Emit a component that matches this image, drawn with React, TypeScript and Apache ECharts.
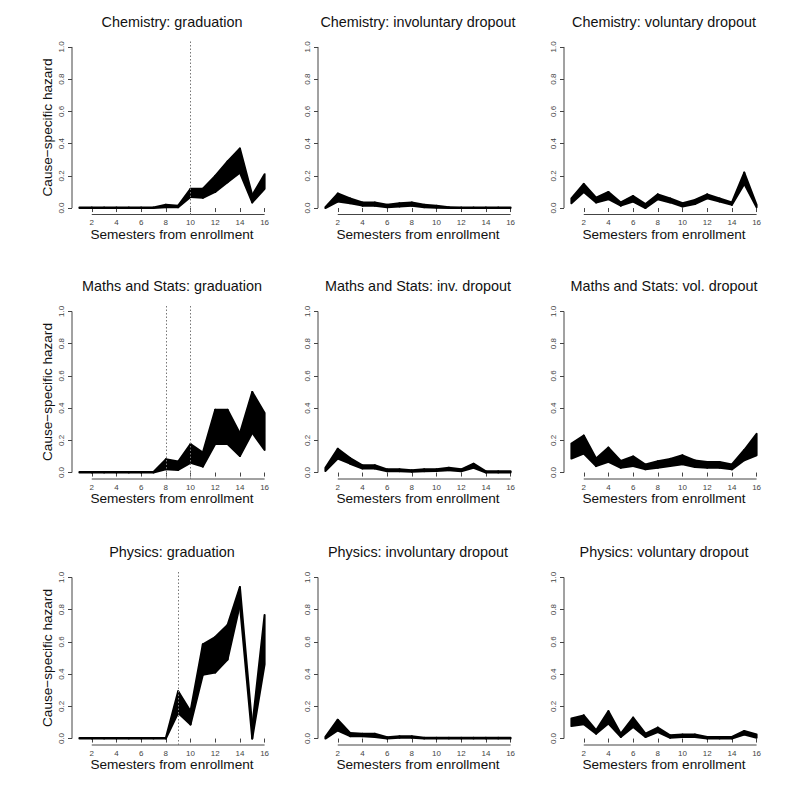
import React, { useEffect, useRef } from "react";
import * as echarts from "echarts";

const semesters = [1, 2, 3, 4, 5, 6, 7, 8, 9, 10, 11, 12, 13, 14, 15, 16];
const xTicks = [2, 4, 6, 8, 10, 12, 14, 16];
const yTicks = [0, 0.2, 0.4, 0.6, 0.8, 1.0];

const chemGradLo = [0, 0, 0, 0, 0, 0, 0, 0.005, 0.005, 0.068, 0.064, 0.1, 0.16, 0.22, 0.035, 0.12];
const chemGradHi = [0.004, 0.004, 0.004, 0.004, 0.004, 0.004, 0.004, 0.02, 0.015, 0.12, 0.12, 0.2, 0.29, 0.37, 0.08, 0.21];
const chemInvLo = [0, 0.04, 0.03, 0.015, 0.015, 0.005, 0.01, 0.015, 0.005, 0.002, 0, 0, 0, 0, 0, 0];
const chemInvHi = [0.005, 0.09, 0.06, 0.035, 0.035, 0.02, 0.03, 0.035, 0.02, 0.015, 0.005, 0.004, 0.004, 0.004, 0.004, 0.004];
const chemVolLo = [0.03, 0.1, 0.035, 0.055, 0.015, 0.04, 0, 0.055, 0.035, 0.01, 0.025, 0.06, 0.04, 0.02, 0.15, 0.005];
const chemVolHi = [0.06, 0.15, 0.065, 0.1, 0.035, 0.075, 0.025, 0.085, 0.06, 0.03, 0.05, 0.085, 0.06, 0.035, 0.22, 0.02];

const mathGradLo = [0, 0, 0, 0, 0, 0, 0, 0.02, 0.016, 0.06, 0.037, 0.177, 0.177, 0.103, 0.247, 0.14];
const mathGradHi = [0.004, 0.004, 0.004, 0.004, 0.004, 0.004, 0.004, 0.082, 0.068, 0.177, 0.124, 0.39, 0.39, 0.243, 0.5, 0.37];
const mathInvLo = [0.01, 0.087, 0.055, 0.025, 0.025, 0.008, 0.008, 0.005, 0.008, 0.01, 0.015, 0.008, 0.03, 0, 0, 0];
const mathInvHi = [0.03, 0.148, 0.09, 0.045, 0.045, 0.02, 0.02, 0.015, 0.02, 0.02, 0.03, 0.02, 0.055, 0.008, 0.008, 0.008];
const mathVolLo = [0.087, 0.118, 0.04, 0.066, 0.03, 0.04, 0.02, 0.03, 0.04, 0.052, 0.035, 0.03, 0.03, 0.02, 0.076, 0.107];
const mathVolHi = [0.18, 0.23, 0.087, 0.155, 0.072, 0.1, 0.05, 0.07, 0.085, 0.107, 0.075, 0.065, 0.065, 0.05, 0.14, 0.24];

const physGradLo = [0, 0, 0, 0, 0, 0, 0, 0, 0.159, 0.087, 0.396, 0.41, 0.49, 0.83, 0, 0.46];
const physGradHi = [0.004, 0.004, 0.004, 0.004, 0.004, 0.004, 0.004, 0.004, 0.293, 0.17, 0.585, 0.63, 0.705, 0.94, 0.076, 0.767];
const physInvLo = [0, 0.05, 0.015, 0.015, 0.01, 0, 0.005, 0.005, 0, 0, 0, 0, 0, 0, 0, 0];
const physInvHi = [0.01, 0.117, 0.035, 0.03, 0.03, 0.008, 0.015, 0.015, 0.005, 0.005, 0.005, 0.005, 0.005, 0.005, 0.005, 0.005];
const physVolLo = [0.078, 0.089, 0.03, 0.093, 0.01, 0.072, 0.01, 0.04, 0.005, 0.01, 0.01, 0, 0, 0, 0.025, 0.005];
const physVolHi = [0.124, 0.144, 0.052, 0.17, 0.03, 0.13, 0.03, 0.068, 0.02, 0.025, 0.025, 0.01, 0.01, 0.01, 0.047, 0.025];

const panelTitles = [
  "Chemistry: graduation",
  "Chemistry: involuntary dropout",
  "Chemistry: voluntary dropout",
  "Maths and Stats: graduation",
  "Maths and Stats: inv. dropout",
  "Maths and Stats: vol. dropout",
  "Physics: graduation",
  "Physics: involuntary dropout",
  "Physics: voluntary dropout",
];
const panelLo = [chemGradLo, chemInvLo, chemVolLo, mathGradLo, mathInvLo, mathVolLo, physGradLo, physInvLo, physVolLo];
const panelHi = [chemGradHi, chemInvHi, chemVolHi, mathGradHi, mathInvHi, mathVolHi, physGradHi, physInvHi, physVolHi];
const panelVLines = [[10], [], [], [8, 10], [], [], [9], [], []];

const xLabel = "Semesters from enrollment";
const yLabel = "Cause\u2212specific hazard";

const XMIN = 0.4;
const XMAX = 16.6;
const YMIN = -0.04;
const YMAX = 1.04;

const FONT = "'Liberation Sans', Arial, Helvetica, sans-serif";
const colLeft = [72, 318, 564];
const rowTop = [40.5, 305, 571];
const gridW = 200;
const gridH = 174;

export default function App() {
  const ref = useRef<HTMLDivElement>(null);
  useEffect(() => {
    document.body.style.margin = "0";
    const chart = echarts.init(ref.current!, null, { renderer: "svg" });
    const grids: any[] = [];
    const xAxes: any[] = [];
    const yAxes: any[] = [];
    const titles: any[] = [];
    const series: any[] = [];
    panelTitles.forEach((t, i) => {
      const c = i % 3;
      const r = Math.floor(i / 3);
      grids.push({ left: colLeft[c], top: rowTop[r], width: gridW, height: gridH });
      titles.push({
        text: t,
        left: colLeft[c] + gridW / 2,
        top: rowTop[r] - 19,
        textAlign: "center",
        textVerticalAlign: "middle",
        padding: 0,
        textStyle: { fontSize: 14.4, fontWeight: "normal", color: "#111", fontFamily: FONT },
      });
      xAxes.push({
        type: "value",
        gridIndex: i,
        min: XMIN,
        max: XMAX,
        splitLine: { show: false },
        axisLine: { show: false },
        axisTick: { show: true, customValues: xTicks, length: 4, lineStyle: { color: "#444", width: 1 } },
        axisLabel: { show: true, customValues: xTicks, fontSize: 8, color: "#444", margin: 4, fontFamily: FONT },
        name: xLabel,
        nameLocation: "middle",
        nameGap: 12,
        nameTextStyle: { fontSize: 13.6, color: "#111", fontFamily: FONT },
      });
      yAxes.push({
        type: "value",
        gridIndex: i,
        min: YMIN,
        max: YMAX,
        splitLine: { show: false },
        axisLine: { show: false },
        axisTick: { show: true, customValues: yTicks, length: 4, lineStyle: { color: "#444", width: 1 } },
        axisLabel: {
          show: true,
          customValues: yTicks,
          fontSize: 8,
          color: "#444",
          margin: 7,
          rotate: 90,
          fontFamily: FONT,
          formatter: (v: number) => v.toFixed(1),
        },
        name: c === 0 ? yLabel : "",
        nameLocation: "middle",
        nameGap: 18,
        nameTextStyle: { fontSize: 13.6, color: "#111", fontFamily: FONT },
      });
      const lo = panelLo[i];
      const hi = panelHi[i];
      series.push({
        type: "custom",
        xAxisIndex: i,
        yAxisIndex: i,
        silent: true,
        data: semesters.slice(0, -1).map((s, k) => [s, lo[k], hi[k], semesters[k + 1], lo[k + 1], hi[k + 1]]),
        encode: { x: [0, 3], y: [1, 2, 4, 5] },
        renderItem: (_p: any, api: any) => {
          const a = api.coord([api.value(0), api.value(1)]);
          const b = api.coord([api.value(0), api.value(2)]);
          const cc = api.coord([api.value(3), api.value(5)]);
          const d = api.coord([api.value(3), api.value(4)]);
          return {
            type: "polygon",
            shape: { points: [a, b, cc, d] },
            style: { fill: "#000", stroke: "#000", lineWidth: 2, lineJoin: "round" },
          };
        },
      });
      series.push({
        type: "line",
        xAxisIndex: i,
        yAxisIndex: i,
        symbol: "none",
        silent: true,
        clip: false,
        lineStyle: { color: "#444", width: 1 },
        data: [
          [xTicks[0], YMIN],
          [xTicks[xTicks.length - 1], YMIN],
        ],
        markLine: {
          silent: true,
          symbol: ["none", "none"],
          label: { show: false },
          lineStyle: { type: [1.5, 2], color: "#777", width: 1 },
          data: panelVLines[i].map((v) => ({ xAxis: v })),
        },
      });
      series.push({
        type: "line",
        xAxisIndex: i,
        yAxisIndex: i,
        symbol: "none",
        silent: true,
        clip: false,
        lineStyle: { color: "#444", width: 1 },
        data: [
          [XMIN, yTicks[0]],
          [XMIN, yTicks[yTicks.length - 1]],
        ],
      });
    });
    chart.setOption({
      animation: false,
      backgroundColor: "#fff",
      title: titles,
      grid: grids,
      xAxis: xAxes,
      yAxis: yAxes,
      series,
    });
    return () => chart.dispose();
  }, []);
  return <div ref={ref} style={{ width: 797, height: 795 }} />;
}
